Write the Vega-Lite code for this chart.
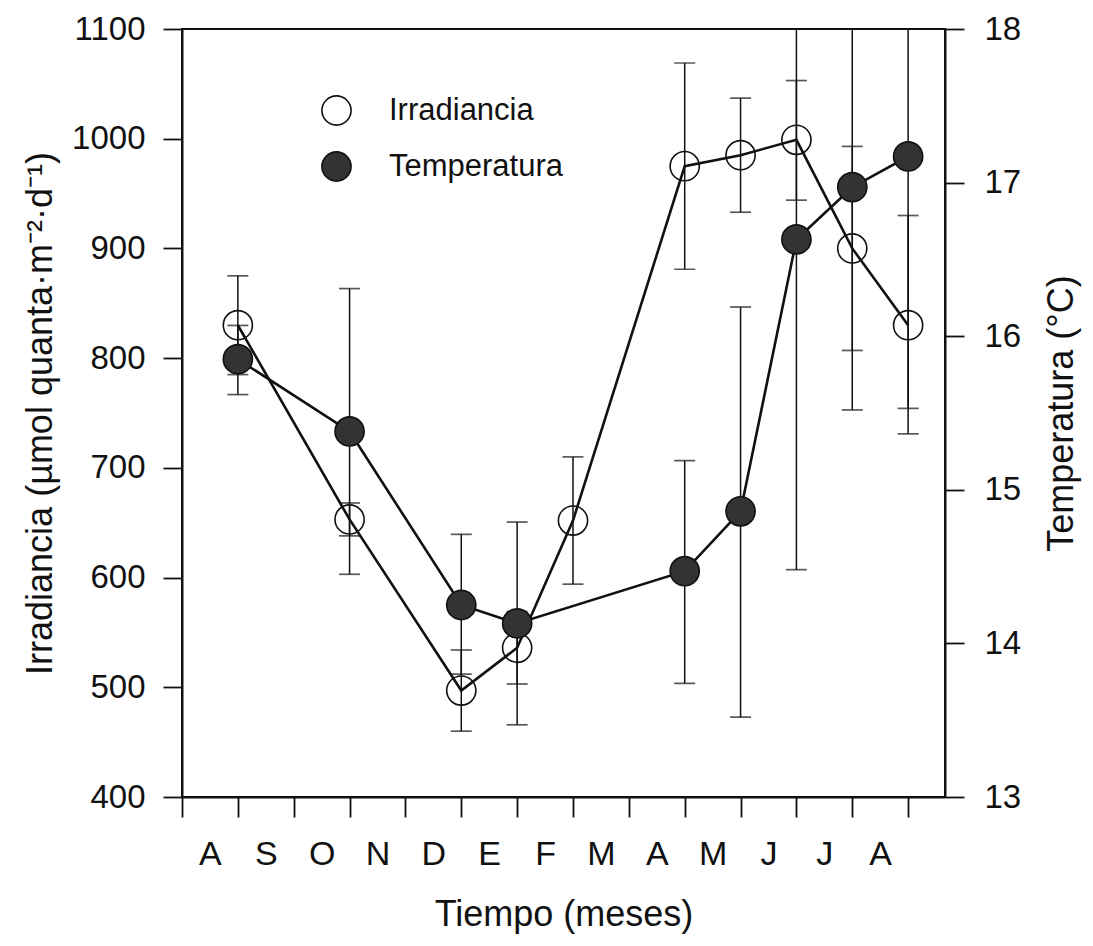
{
  "$schema": "https://vega.github.io/schema/vega-lite/v6.json",
  "autosize": {"type": "none"},
  "padding": {"left": 182, "top": 29, "right": 148, "bottom": 149},
  "width": 763,
  "height": 768,
  "background": "white",
  "config": {
    "view": {"stroke": "#111", "strokeWidth": 2},
    "font": "Liberation Sans",
    "axis": {"grid": false, "domainColor": "#111", "domainWidth": 2, "tickColor": "#111", "tickWidth": 1.8, "labelColor": "#111", "titleColor": "#111", "labelFont": "Liberation Sans", "titleFont": "Liberation Sans", "titleFontWeight": "normal"}
  },
  "datasets": {
    "irr": [
      {"mes": 1, "serie": "Irradiancia", "valor": 830, "lo": 785, "hi": 875},
      {"mes": 3, "serie": "Irradiancia", "valor": 653, "lo": 638, "hi": 668},
      {"mes": 5, "serie": "Irradiancia", "valor": 497, "lo": 460, "hi": 534},
      {"mes": 6, "serie": "Irradiancia", "valor": 536, "lo": 503, "hi": 569},
      {"mes": 7, "serie": "Irradiancia", "valor": 652, "lo": 594, "hi": 710},
      {"mes": 9, "serie": "Irradiancia", "valor": 975, "lo": 881, "hi": 1069},
      {"mes": 10, "serie": "Irradiancia", "valor": 985, "lo": 933, "hi": 1037},
      {"mes": 11, "serie": "Irradiancia", "valor": 999, "lo": 944, "hi": 1053},
      {"mes": 12, "serie": "Irradiancia", "valor": 900, "lo": 807, "hi": 993},
      {"mes": 13, "serie": "Irradiancia", "valor": 830, "lo": 731, "hi": 930}
    ],
    "temp": [
      {"mes": 1, "serie": "Temperatura", "valor": 15.85, "lo": 15.62, "hi": 16.07},
      {"mes": 3, "serie": "Temperatura", "valor": 15.38, "lo": 14.45, "hi": 16.31},
      {"mes": 5, "serie": "Temperatura", "valor": 14.25, "lo": 13.8, "hi": 14.71},
      {"mes": 6, "serie": "Temperatura", "valor": 14.13, "lo": 13.47, "hi": 14.79},
      {"mes": 9, "serie": "Temperatura", "valor": 14.47, "lo": 13.74, "hi": 15.19},
      {"mes": 10, "serie": "Temperatura", "valor": 14.86, "lo": 13.52, "hi": 16.19},
      {"mes": 11, "serie": "Temperatura", "valor": 16.63, "lo": 14.48, "hi": 18.78},
      {"mes": 12, "serie": "Temperatura", "valor": 16.97, "lo": 15.52, "hi": 18.42},
      {"mes": 13, "serie": "Temperatura", "valor": 17.17, "lo": 15.53, "hi": 18.81}
    ]
  },
  "encoding": {
    "x": {
      "field": "mes", "type": "quantitative",
      "scale": {"domain": [0, 13.66], "nice": false, "zero": false},
      "title": "Tiempo (meses)",
      "axis": {
        "values": [0, 0.5, 1, 1.5, 2, 2.5, 3, 3.5, 4, 4.5, 5, 5.5, 6, 6.5, 7, 7.5, 8, 8.5, 9, 9.5, 10, 10.5, 11, 11.5, 12, 12.5, 13],
        "labelExpr": "datum.value % 1 ? ['A','S','O','N','D','E','F','M','A','M','J','J','A'][floor(datum.value)] : ''",
        "tickOpacity": {"condition": {"test": "datum.value % 1 == 0", "value": 1}, "value": 0},
        "tickSize": 20,
        "labelFontSize": 34,
        "labelPadding": 20,
        "labelFlush": false,
        "labelOverlap": false,
        "titleFontSize": 36,
        "titlePadding": 26
      }
    }
  },
  "layer": [
    {
      "data": {"name": "irr"},
      "layer": [
        {
          "mark": {"type": "rule", "clip": true, "color": "#111", "strokeWidth": 1.5},
          "encoding": {
            "y": {"field": "lo", "type": "quantitative", "scale": {"domain": [400, 1100], "nice": false, "zero": false}, "title": "Irradiancia (µmol quanta·m⁻²·d⁻¹)",
              "axis": {"orient": "left", "format": "d", "values": [400, 500, 600, 700, 800, 900, 1000, 1100], "tickSize": 19, "labelPadding": 18, "labelFontSize": 33, "titleFontSize": 36, "titlePadding": 12}},
            "y2": {"field": "hi"}
          }
        },
        {
          "transform": [{"fold": ["lo", "hi"], "as": ["cap", "capval"]}],
          "mark": {"type": "tick", "orient": "horizontal", "clip": true, "color": "#111", "size": 21, "thickness": 1.7},
          "encoding": {
            "y": {"field": "capval", "type": "quantitative", "title": "Irradiancia (µmol quanta·m⁻²·d⁻¹)"}
          }
        },
        {
          "mark": {"type": "line", "color": "#111", "strokeWidth": 2.6},
          "encoding": {
            "y": {"field": "valor", "type": "quantitative", "title": "Irradiancia (µmol quanta·m⁻²·d⁻¹)"}
          }
        },
        {
          "mark": {"type": "point", "shape": "circle", "size": 850, "filled": true, "stroke": "#111", "strokeWidth": 1.6, "opacity": 1},
          "encoding": {
            "y": {"field": "valor", "type": "quantitative", "title": "Irradiancia (µmol quanta·m⁻²·d⁻¹)"},
            "fill": {"field": "serie", "type": "nominal",
              "scale": {"domain": ["Irradiancia", "Temperatura"], "range": ["transparent", "#333333"]},
              "legend": {"title": null, "orient": "none", "legendX": 139, "legendY": 66, "symbolType": "circle", "symbolSize": 850, "symbolStrokeColor": "#111", "symbolStrokeWidth": 1.6, "symbolOpacity": 1, "labelFontSize": 31, "labelFont": "Liberation Sans", "labelColor": "#111", "labelLimit": 0, "rowPadding": 19, "labelOffset": 37, "padding": 0}}
          }
        }
      ]
    },
    {
      "data": {"name": "temp"},
      "layer": [
        {
          "mark": {"type": "rule", "clip": true, "color": "#111", "strokeWidth": 1.5},
          "encoding": {
            "y": {"field": "lo", "type": "quantitative", "scale": {"domain": [13, 18], "nice": false, "zero": false}, "title": "Temperatura (°C)",
              "axis": {"orient": "right", "format": "d", "values": [13, 14, 15, 16, 17, 18], "tickSize": 19, "labelPadding": 20, "labelFontSize": 33, "titleFontSize": 36, "titlePadding": 24, "titleAngle": 270, "titleBaseline": "top"}},
            "y2": {"field": "hi"}
          }
        },
        {
          "transform": [{"fold": ["lo", "hi"], "as": ["cap", "capval"]}],
          "mark": {"type": "tick", "orient": "horizontal", "clip": true, "color": "#111", "size": 21, "thickness": 1.7},
          "encoding": {
            "y": {"field": "capval", "type": "quantitative", "title": "Temperatura (°C)"}
          }
        },
        {
          "mark": {"type": "line", "color": "#111", "strokeWidth": 2.6},
          "encoding": {
            "y": {"field": "valor", "type": "quantitative", "title": "Temperatura (°C)"}
          }
        },
        {
          "mark": {"type": "point", "shape": "circle", "size": 850, "filled": true, "stroke": "#111", "strokeWidth": 1.6, "opacity": 1},
          "encoding": {
            "y": {"field": "valor", "type": "quantitative", "title": "Temperatura (°C)"},
            "fill": {"field": "serie", "type": "nominal"}
          }
        }
      ]
    }
  ],
  "resolve": {"scale": {"y": "independent"}}
}
